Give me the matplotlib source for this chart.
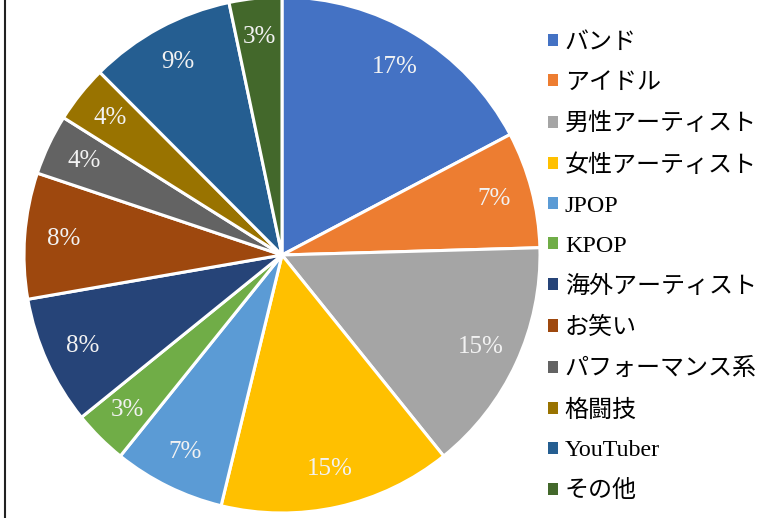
import matplotlib.pyplot as plt
import matplotlib as mpl
from matplotlib.patches import Patch
from matplotlib.lines import Line2D

# カテゴリと割合
labels = ["バンド", "アイドル", "男性アーティスト", "女性アーティスト", "JPOP", "KPOP",
          "海外アーティスト", "お笑い", "パフォーマンス系", "格闘技", "YouTuber", "その他"]
values = [17.3, 7.3, 14.7, 14.6, 7.0, 3.4, 8.1, 7.9, 3.8, 3.6, 9.2, 3.3]
colors = ["#4472C4", "#ED7D31", "#A5A5A5", "#FFC000", "#5B9BD5", "#70AD47",
          "#264478", "#9E480E", "#636363", "#997300", "#255E91", "#43682B"]


def main():
    mpl.rcParams['font.family'] = ['Liberation Serif', 'Noto Sans CJK JP']

    W, H = 779, 518
    fig = plt.figure(figsize=(W / 100, H / 100), dpi=100)

    # 円の中心と半径(ピクセル)
    cx, cy, r = 282, H - 255, 258
    ax = fig.add_axes([(cx - r) / W, (cy - r) / H, 2 * r / W, 2 * r / H])

    wedges, texts, autotexts = ax.pie(
        values, colors=colors, startangle=90, counterclock=False,
        autopct='%.0f%%', pctdistance=0.85,
        wedgeprops=dict(edgecolor='white', linewidth=2.2),
        textprops=dict(color='#f2f2f2', fontsize=18))
    ax.set_xlim(-1, 1)
    ax.set_ylim(-1, 1)
    ax.axis('off')

    # 凡例
    handles = [Patch(facecolor=c, edgecolor='none') for c in colors]
    fig.legend(handles, labels, loc='upper left',
               bbox_to_anchor=(548 / W, 1 - 33 / H),
               frameon=False, fontsize=17.3,
               handlelength=0.4, handleheight=0.4, handletextpad=0.3,
               labelspacing=0.79, borderpad=0, borderaxespad=0)

    # 左端の枠線
    fig.add_artist(Line2D([5 / W, 5 / W], [0, 1], color='#222222', linewidth=1.5))

    fig.savefig("out.png", dpi=100)


if __name__ == '__main__':
    main()
